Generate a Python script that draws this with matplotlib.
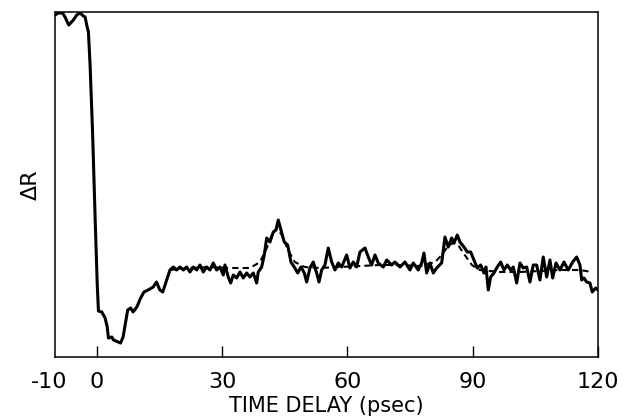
import matplotlib
matplotlib.use("Agg")
import matplotlib.pyplot as plt
import matplotlib.transforms as mtransforms

# Measured reflectivity change (arbitrary units) vs time delay (ps)
t_data = [-10.0, -9.2, -8.2, -7.6, -6.7, -5.6, -4.8, -4.0, -3.2, -2.8, -2.3, -2.0, -1.6,
          -1.0, -0.4, 0.1, 0.4, 1.2, 2.0, 2.5, 2.8, 3.6, 4.0, 5.1, 5.7, 6.3, 7.0, 7.4,
          8.1, 8.7, 9.6, 10.5, 11.3, 12.3, 13.5, 14.3, 15.1, 15.8, 16.5, 17.52, 18.31,
          19.13, 19.92, 20.71, 21.52, 22.31, 23.10, 23.92, 24.71, 25.50, 26.31, 27.10,
          27.89, 28.70, 29.49, 30.28, 30.69, 31.48, 32.06, 32.68, 33.49, 34.28, 35.07,
          35.89, 36.68, 37.47, 38.28, 38.66, 39.48, 40.10, 40.68, 41.47, 42.26, 42.90,
          43.45, 44.10, 44.89, 45.70, 46.49, 47.28, 48.10, 48.89, 49.68, 50.25, 51.04,
          51.83, 52.64, 53.20, 53.84, 54.63, 55.42, 56.24, 57.03, 57.82, 58.63, 59.83,
          60.62, 61.41, 62.22, 63.01, 64.21, 65.00, 65.81, 66.60, 67.39, 68.59, 69.40,
          70.60, 71.39, 72.59, 73.78, 74.98, 75.77, 76.97, 77.78, 78.33, 78.98, 79.77,
          80.56, 81.37, 82.57, 83.36, 84.15, 84.97, 85.52, 86.31, 86.95, 87.91, 88.70,
          89.51, 90.30, 91.09, 91.91, 92.70, 93.18, 93.73, 94.30, 95.09, 95.88, 96.70,
          97.49, 98.28, 99.09, 99.71, 100.53, 101.32, 102.11, 102.92, 103.71, 104.50,
          105.31, 106.10, 106.89, 107.71, 108.50, 109.15, 109.94, 110.89, 111.85,
          112.88, 113.93, 114.89, 115.68, 116.09, 116.64, 117.28, 118.07, 118.62,
          119.44, 119.99]
r_data = [342, 344, 344, 340, 332, 337, 342, 344, 341, 340, 330, 325, 292,
          224, 140, 74, 46, 45, 39, 30, 19, 20, 17, 15, 14, 20, 37, 47,
          49, 45, 50, 59, 65, 67, 70, 75, 67, 65, 74, 87, 90,
          87, 90, 87, 90, 85, 90, 87, 92, 85, 90, 87,
          94, 87, 90, 82, 92, 80, 74, 82, 79, 85, 79,
          84, 80, 84, 74, 85, 90, 102, 119, 115, 125, 127,
          137, 127, 115, 112, 95, 90, 84, 90, 84, 75, 89,
          95, 84, 75, 87, 92, 109, 95, 87, 94, 90, 102,
          89, 95, 90, 105, 109, 100, 92, 102, 94, 90, 97,
          92, 95, 90, 95, 87, 94, 87, 94, 104, 84, 94,
          84, 89, 94, 120, 110, 119, 114, 122, 115, 110, 105,
          105, 97, 89, 92, 84, 90, 67, 80, 84, 90, 95,
          87, 92, 87, 90, 74, 94, 89, 90, 75, 92,
          92, 77, 100, 80, 97, 79, 94, 87, 95,
          87, 95, 100, 92, 77, 79, 75, 74, 65,
          69, 67]

# Model fit (dashed)
t_fit = [17.5, 22.3, 27.1, 31.9, 36.7, 39.1, 40.7, 41.9, 43.1, 44.3, 45.8, 47.4, 49.8,
         53.4, 58.2, 63.0, 67.8, 72.6, 77.4, 81.0, 82.6, 84.1, 85.3, 86.5, 88.1, 89.8,
         91.7, 96.5, 101.3, 106.1, 110.9, 115.7, 118.5]
r_fit = [87, 89, 90, 89, 89, 95, 109, 122, 129, 122, 107, 95, 90,
         89, 90, 91, 92, 92, 91, 95, 102, 111, 114, 112, 102, 92,
         87, 85, 85, 86, 87, 87, 85]

x_ticks = [0, 30, 60, 90, 120]
x_ticklabels = ["0", "30", "60", "90", "120"]

fig = plt.figure(figsize=(6.33, 4.17), dpi=100)
ax = fig.add_axes([55 / 633, 1 - 357 / 417, 543 / 633, 345 / 417])

ax.plot(t_data, r_data, color="black", lw=2.2, solid_joinstyle="round")
ax.plot(t_fit, r_fit, color="black", lw=1.5, ls=(0, (3, 2)))

ax.set_xlim(-10, 120)
ax.set_ylim(0, 345)
ax.set_xticks([-10] + x_ticks)
ax.set_xticklabels(["-10"] + x_ticklabels)
ax.tick_params(axis="x", direction="in", length=8, width=1.0, pad=11,
               labelsize=16)
ax.xaxis.get_major_ticks()[0].tick1line.set_visible(False)
lbl0 = ax.get_xticklabels()[0]
lbl0.set_transform(lbl0.get_transform() +
                   mtransforms.ScaledTranslation(-6 / 100, 0, fig.dpi_scale_trans))
ax.set_yticks([])
for s in ax.spines.values():
    s.set_linewidth(1.1)

ax.set_xlabel("TIME DELAY (psec)", fontsize=15, labelpad=3)
ax.set_ylabel("ΔR", fontsize=16, labelpad=10)

fig.savefig("out.png", dpi=100)
